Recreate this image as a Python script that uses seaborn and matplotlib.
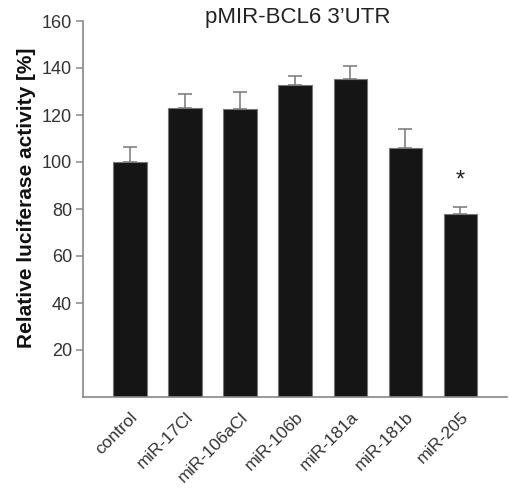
import matplotlib
matplotlib.use("Agg")
import matplotlib.pyplot as plt
import seaborn as sns
import pandas as pd

categories = ["control", "miR-17Cl", "miR-106aCl", "miR-106b", "miR-181a", "miR-181b", "miR-205"]
values = [100.0, 123.1, 122.7, 132.8, 135.3, 105.8, 77.7]
errors = [6.4, 5.7, 7.1, 3.9, 5.4, 8.4, 3.0]
yticks = [20, 40, 60, 80, 100, 120, 140, 160]

sns.set_theme(style="white")
plt.rcParams['font.family'] = ['Liberation Sans', 'DejaVu Sans']

df = pd.DataFrame({"cat": categories, "val": values})

fig = plt.figure(figsize=(5.09, 4.90), dpi=100)
ax = fig.add_axes([83/509, 1 - 397/490, (507 - 83)/509, (397 - 21)/490])

sns.barplot(data=df, x="cat", y="val", color="#151515", width=0.61,
            edgecolor="#777777", linewidth=0.8, saturation=1, ax=ax, errorbar=None)
ax.errorbar(range(len(categories)), values, yerr=[[0]*len(errors), errors],
            fmt="none", ecolor="#777777", elinewidth=1.1, capsize=5, capthick=1.1, zorder=1)

ax.text(6, 92, "*", ha="center", va="center", fontsize=17, color="#222222")

ax.set_xlim(-0.855, 6.845)
ax.set_ylim(0, 160)
ax.set_yticks(yticks)
ax.set_xlabel("")
ax.set_ylabel("Relative luciferase activity [%]", fontsize=15, fontweight="bold",
              color="#111111", labelpad=4)
ax.yaxis.label.set_y(0.53)
for s in ["top", "right"]:
    ax.spines[s].set_visible(False)
for s in ["left", "bottom"]:
    ax.spines[s].set_color("#888888")
    ax.spines[s].set_linewidth(1.2)
ax.tick_params(axis="y", left=True, length=5, width=1.1, color="#888888",
               labelsize=13, labelcolor="#333333", pad=3)
ax.tick_params(axis="x", bottom=False, labelsize=12.5, labelcolor="#333333", pad=3)
plt.setp(ax.get_xticklabels(), rotation=45, ha="right", rotation_mode="anchor")

fig.text(298/509, 1 - 17/490, "pMIR-BCL6 3\u2019UTR", ha="center", va="center",
         fontsize=16, color="#222222")

fig.savefig("out.png", dpi=100)
